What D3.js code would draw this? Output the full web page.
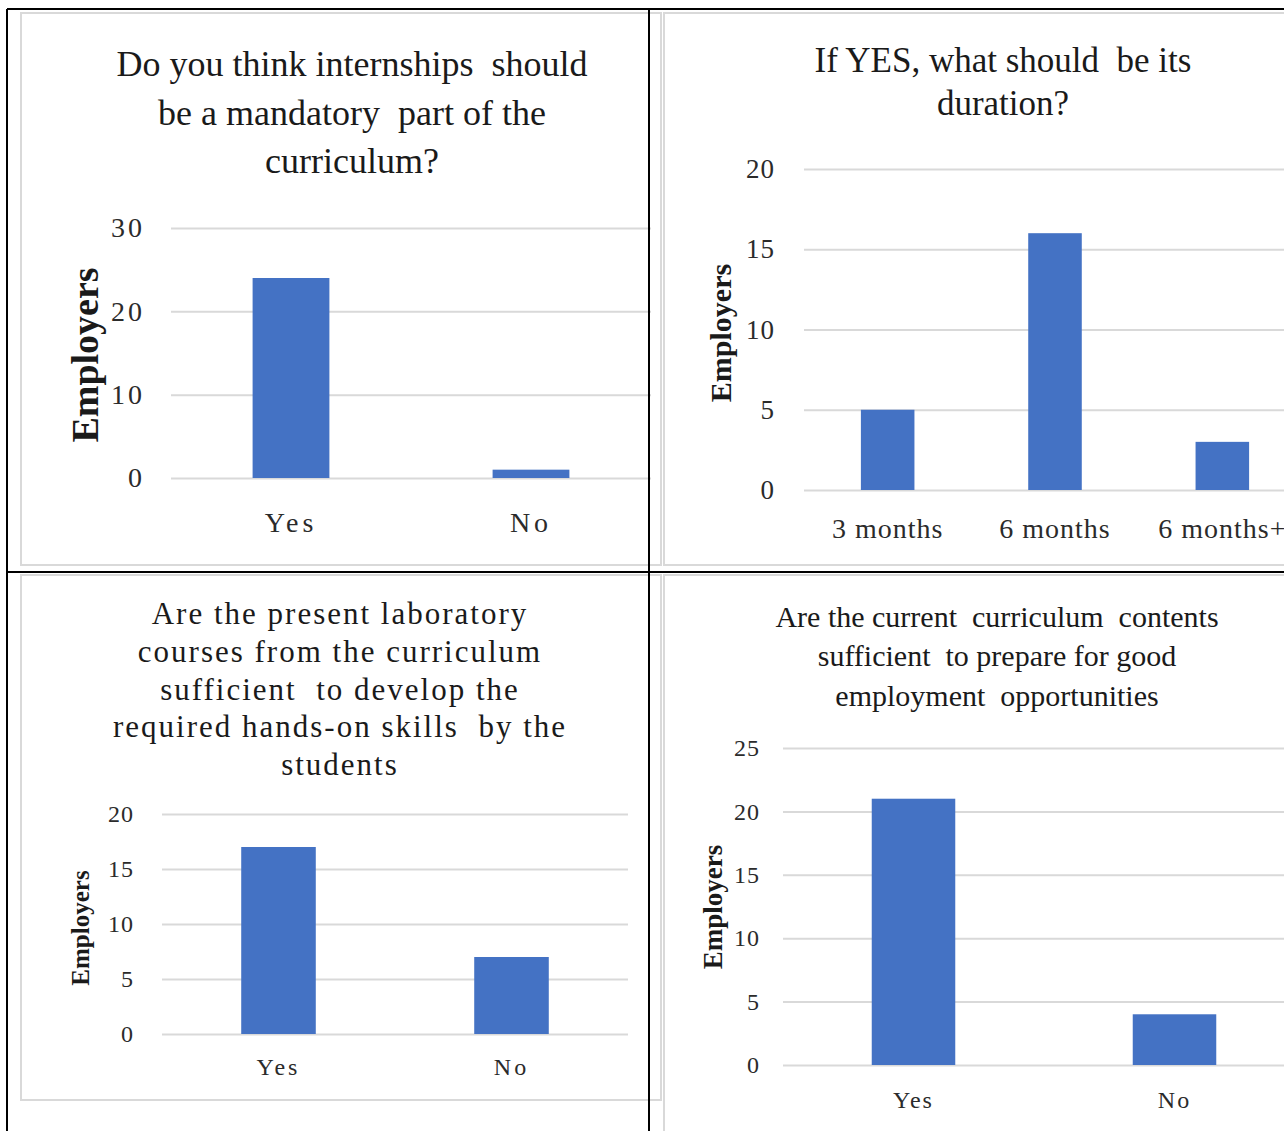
<!DOCTYPE html>
<html lang="en">
<head>
    <meta charset="UTF-8" />
    <title>Employer survey - internships and curriculum</title>
    <script src="https://d3js.org/d3.v7.min.js"></script>
    <style>
        body { margin: 0; background: #fff; }
        text { font-family: "Liberation Serif", "Times New Roman", serif; }
    </style>
</head>
<body>
<script>
    // data
    var q1Title = ["Do you think internships  should", "be a mandatory  part of the", "curriculum?"];
    var q1Categories = ["Yes", "No"];
    var q1Values = [24, 1];
    var q1Ticks = [0, 10, 20, 30];

    var q2Title = ["If YES, what should  be its", "duration?"];
    var q2Categories = ["3 months", "6 months", "6 months+"];
    var q2Values = [5, 16, 3];
    var q2Ticks = [0, 5, 10, 15, 20];

    var q3Title = ["Are the present laboratory", "courses from the curriculum", "sufficient  to develop the",
                   "required hands-on skills  by the", "students"];
    var q3Categories = ["Yes", "No"];
    var q3Values = [17, 7];
    var q3Ticks = [0, 5, 10, 15, 20];

    var q4Title = ["Are the current  curriculum  contents", "sufficient  to prepare for good",
                   "employment  opportunities"];
    var q4Categories = ["Yes", "No"];
    var q4Values = [21, 4];
    var q4Ticks = [0, 5, 10, 15, 20, 25];

    var yLabel = "Employers";

    var w = 1284;
    var h = 1131;
    var barColor = "#4472c4";
    var gridColor = "#d9d9d9";

    var svg = d3.select("body")
        .append("svg")
        .attr("width", w)
        .attr("height", h);

    // layout of each chart (frame, plot area, text sizes)
    var charts = [
        { title: q1Title, cats: q1Categories, vals: q1Values, ticks: q1Ticks,
          frame: [21, 13, 640, 552], titleX: 352, titleY: [63, 112, 160], titleSize: 36, titleSpacing: 0,
          x0: 171, x1: 651, y0: 478, yTop: 228, tickPad: 26, tickSize: 28, tickSpacing: 3,
          yTitleX: 85, yTitleY: 355, yTitleSize: 38, xLabY: 522, xLabSize: 28, xLabSpacing: 4 },
        { title: q2Title, cats: q2Categories, vals: q2Values, ticks: q2Ticks,
          frame: [664, 13, 640, 552], titleX: 1003, titleY: [60, 103], titleSize: 35, titleSpacing: 0,
          x0: 804, x1: 1306, y0: 490, yTop: 169, tickPad: 29, tickSize: 27, tickSpacing: 1,
          yTitleX: 720, yTitleY: 333, yTitleSize: 30, xLabY: 528, xLabSize: 28, xLabSpacing: 1 },
        { title: q3Title, cats: q3Categories, vals: q3Values, ticks: q3Ticks,
          frame: [21, 575, 640, 525], titleX: 340, titleY: [613, 651, 689, 726, 764], titleSize: 31, titleSpacing: 2,
          x0: 162, x1: 628, y0: 1034, yTop: 814, tickPad: 28, tickSize: 24, tickSpacing: 1,
          yTitleX: 80, yTitleY: 928, yTitleSize: 25, xLabY: 1067, xLabSize: 24, xLabSpacing: 3 },
        { title: q4Title, cats: q4Categories, vals: q4Values, ticks: q4Ticks,
          frame: [664, 575, 640, 600], titleX: 997, titleY: [616, 655, 695], titleSize: 30, titleSpacing: 0,
          x0: 783, x1: 1305, y0: 1065, yTop: 748, tickPad: 23, tickSize: 24, tickSpacing: 1,
          yTitleX: 713, yTitleY: 907, yTitleSize: 27, xLabY: 1100, xLabSize: 24, xLabSpacing: 2 }
    ];

    charts.forEach(function (c) {
        var g = svg.append("g");

        // chart area frame
        g.append("rect")
            .attr("x", c.frame[0])
            .attr("y", c.frame[1])
            .attr("width", c.frame[2])
            .attr("height", c.frame[3])
            .attr("fill", "#fff")
            .attr("stroke", gridColor)
            .attr("stroke-width", 2);

        var xScale = d3.scaleBand()
            .domain(c.cats)
            .range([c.x0, c.x1])
            .paddingInner(0.68)
            .paddingOuter(0.34);

        var yScale = d3.scaleLinear()
            .domain([0, d3.max(c.ticks)])
            .range([c.y0, c.yTop]);

        // gridlines + tick labels
        var yAxis = g.append("g")
            .attr("transform", "translate(" + c.x0 + ",0)")
            .call(d3.axisLeft(yScale)
                .tickValues(c.ticks)
                .tickSize(-(c.x1 - c.x0))
                .tickPadding(c.tickPad)
                .tickFormat(d3.format("d")));
        yAxis.select(".domain").remove();
        yAxis.selectAll("line")
            .attr("stroke", gridColor)
            .attr("stroke-width", 2);
        yAxis.selectAll("text")
            .attr("fill", "#2b2b2b")
            .attr("font-size", c.tickSize + "px")
            .attr("letter-spacing", c.tickSpacing + "px")
            .attr("font-family", "Liberation Serif");

        g.selectAll("rect.bar")
            .data(c.vals)
            .enter()
            .append("rect")
            .attr("class", "bar")
            .attr("x", function (d, i) { return xScale(c.cats[i]); })
            .attr("y", function (d) { return yScale(d); })
            .attr("width", xScale.bandwidth())
            .attr("height", function (d) { return c.y0 - yScale(d); })
            .attr("fill", barColor);

        g.selectAll("text.xlab")
            .data(c.cats)
            .enter()
            .append("text")
            .attr("class", "xlab")
            .attr("x", function (d) { return xScale(d) + xScale.bandwidth() / 2; })
            .attr("y", c.xLabY)
            .attr("dy", "0.35em")
            .attr("text-anchor", "middle")
            .attr("font-size", c.xLabSize + "px")
            .attr("letter-spacing", c.xLabSpacing + "px")
            .attr("fill", "#2b2b2b")
            .text(function (d) { return d; });

        g.selectAll("text.title")
            .data(c.title)
            .enter()
            .append("text")
            .attr("class", "title")
            .attr("x", c.titleX)
            .attr("y", function (d, i) { return c.titleY[i]; })
            .attr("dy", "0.35em")
            .attr("text-anchor", "middle")
            .attr("font-size", c.titleSize + "px")
            .attr("letter-spacing", c.titleSpacing + "px")
            .attr("fill", "#1a1a1a")
            .attr("xml:space", "preserve")
            .style("white-space", "pre")
            .text(function (d) { return d; });

        g.append("text")
            .attr("transform", "translate(" + c.yTitleX + "," + c.yTitleY + ") rotate(-90)")
            .attr("dy", "0.35em")
            .attr("text-anchor", "middle")
            .attr("font-size", c.yTitleSize + "px")
            .attr("font-weight", "bold")
            .attr("fill", "#1a1a1a")
            .text(yLabel);
    });

    // table borders around the four cells
    var borders = svg.append("g")
        .attr("stroke", "#000")
        .attr("stroke-width", 2);
    borders.append("line").attr("x1", 7).attr("y1", 9).attr("x2", w).attr("y2", 9);
    borders.append("line").attr("x1", 7).attr("y1", 572).attr("x2", w).attr("y2", 572);
    borders.append("line").attr("x1", 7).attr("y1", 9).attr("x2", 7).attr("y2", h);
    borders.append("line").attr("x1", 649).attr("y1", 9).attr("x2", 649).attr("y2", h);
</script>
</body>
</html>
